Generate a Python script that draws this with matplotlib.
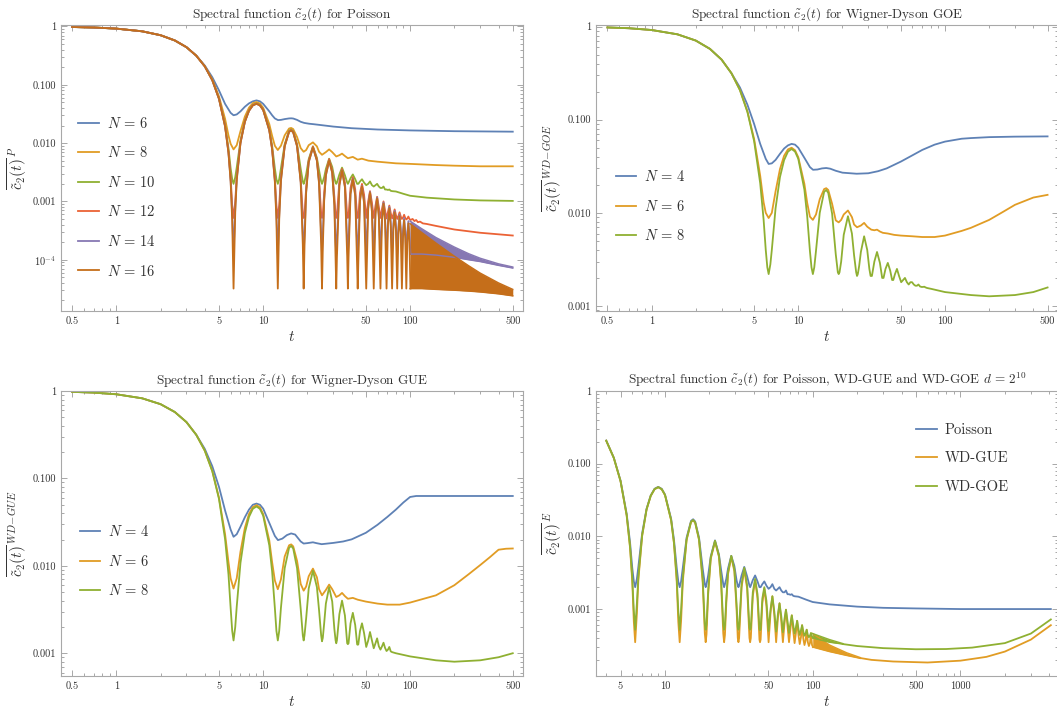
import numpy as np
import matplotlib
matplotlib.use("Agg")
import matplotlib.pyplot as plt
from matplotlib.ticker import FixedLocator, FixedFormatter, NullFormatter, LogLocator

plt.rcParams['font.family'] = ['cmr10', 'DejaVu Serif']
plt.rcParams['mathtext.fontset'] = 'cm'
plt.rcParams['axes.unicode_minus'] = False
plt.rcParams['axes.formatter.use_mathtext'] = True
plt.rcParams['path.simplify'] = False

# ---------------- colours (Mathematica default palette) ----------------
C_BLUE, C_ORANGE, C_GREEN = '#5E81B5', '#E19C24', '#8FB032'
C_RED, C_PURPLE, C_BROWN = '#EB6235', '#8778B3', '#C56E1A'

# ---------------- shared read-off data ----------------
T_E = [0.5, 0.7, 1, 1.5, 2, 2.5, 3, 3.5]
C_E = [0.979, 0.960, 0.919, 0.826, 0.708, 0.576, 0.442, 0.316]

T_OSC = [
    4, 4.5, 5, 5.5, 5.8, 6.0, 6.15, 6.28, 6.45, 6.6,
    7, 7.5, 8, 8.5, 9, 9.5, 10, 11, 11.5, 12, 12.3,
    12.57, 12.85, 13.2, 14, 15, 15.5, 16, 17, 18, 18.6,
    18.85, 19.1, 19.6, 20.4, 21.8, 23.2, 24.0, 24.8,
    25.13, 25.45, 26.0, 26.7, 28.1, 29.5, 30.5, 31.1,
    31.42, 31.75, 33.0, 34.4, 36.0, 37.3,
    37.70, 38.1, 39.3, 40.75, 42.3, 43.6,
    43.98, 44.4, 45.6, 47.04, 48.6,
    50.27, 51.84, 53.33, 54.98, 56.55, 58.12, 59.62, 61.26,
    62.83, 64.40, 65.91, 67.54, 69.12, 70.69, 72.19, 73.83,
    75.40, 76.97, 78.48, 80.11, 81.68, 83.25, 84.77, 86.39,
    87.96, 89.54, 91.05, 92.68, 94.25, 95.82, 97.34, 98.96, 100.53]

# ---------------- Panel 1: Poisson ----------------
P6_T = [4, 4.5, 5, 5.5, 6.0, 6.28, 6.6, 7, 7.5, 8, 8.5, 9, 9.5, 10, 11, 11.5, 12, 12.6, 13.2, 14,
        15, 15.5, 16, 17, 18, 19, 20.5, 22, 25, 30, 40, 60, 100, 200, 500]
P6_Y = [0.214, 0.135, 0.080, 0.047, 0.033, 0.030, 0.031, 0.035, 0.042, 0.048,
        0.052, 0.054, 0.052, 0.047, 0.035, 0.030, 0.0265, 0.0248, 0.0250, 0.0258,
        0.0265, 0.0266, 0.0264, 0.0250, 0.0232, 0.0222, 0.0215, 0.0211, 0.0203, 0.0192,
        0.0180, 0.0171, 0.0165, 0.0160, 0.0157]

P8_T = [4, 4.5, 5, 5.5, 5.8, 6.0, 6.28, 6.6, 7, 7.5, 8, 8.5, 9, 9.5, 10, 11, 11.5, 12, 12.57, 13.2,
        14, 15, 15.5, 16, 17, 18, 18.85, 19.6, 20.4, 21.8, 23.2, 24.0, 25.13, 26.7, 28.1, 29.5,
        31.42, 33.0, 34.4, 36.0, 37.7, 40.75, 43.98, 47.0, 52, 60, 80, 100, 150, 200, 300, 500]
P8_Y = [0.209, 0.124, 0.063, 0.026, 0.0135, 0.0097, 0.0078, 0.0092, 0.0160, 0.0285,
        0.0405, 0.0485, 0.0505, 0.0478, 0.0402, 0.0212, 0.0133, 0.0090, 0.0076, 0.0090,
        0.0136, 0.0178, 0.0182, 0.0174, 0.0127, 0.0082, 0.0071, 0.0076, 0.0092, 0.0103,
        0.0088, 0.0071, 0.0063, 0.0070, 0.0078, 0.0070, 0.0059, 0.0062, 0.0066, 0.0060,
        0.0055, 0.0058, 0.0052, 0.0054, 0.0050, 0.0048, 0.0045, 0.0044, 0.0042, 0.0041,
        0.0040, 0.0040]

P10_OSC = [
    0.208, 0.121, 0.0585, 0.0205, 0.0082, 0.0037, 0.0024, 0.0020, 0.0026, 0.0038,
    0.0110, 0.0240, 0.0365, 0.0452, 0.0480, 0.0451, 0.0376, 0.0175, 0.0090, 0.0037, 0.0024,
    0.0020, 0.0024, 0.0037, 0.0096, 0.0163, 0.0172, 0.0160, 0.0096, 0.0036, 0.0022,
    0.0020, 0.0022, 0.0029, 0.0053, 0.0088, 0.0056, 0.0034, 0.0022,
    0.0020, 0.0022, 0.0026, 0.0036, 0.0054, 0.0039, 0.0025, 0.0021,
    0.0020, 0.0021, 0.0029, 0.0038, 0.0028, 0.0021,
    0.0020, 0.0021, 0.0025, 0.0029, 0.0024, 0.0020,
    0.0020, 0.0020, 0.0022, 0.0024, 0.0021,
    0.0019, 0.0020, 0.0022, 0.0019, 0.0018, 0.0019, 0.0020, 0.0018,
    0.0017, 0.0017, 0.0018, 0.0016, 0.0016, 0.00157, 0.0016, 0.00152,
    0.00150]
P10_TAIL_T = [80, 90, 100, 130, 200, 300, 500]
P10_TAIL_Y = [0.00148, 0.00135, 0.00125, 0.00116, 0.00108, 0.00104, 0.00102]

P12_OSC = [
    0.207, 0.120, 0.0575, 0.0196, 0.0072, 0.0026, 0.00085, 0.00052, 0.0010, 0.0026,
    0.0103, 0.0235, 0.0361, 0.0447, 0.0475, 0.0446, 0.0371, 0.0168, 0.0081, 0.0025, 0.00085,
    0.00052, 0.00087, 0.0026, 0.0091, 0.0159, 0.0168, 0.0156, 0.0091, 0.0024, 0.00062,
    0.00052, 0.00060, 0.0017, 0.0050, 0.0087, 0.0053, 0.0023, 0.00062,
    0.00052, 0.00059, 0.0014, 0.0031, 0.0053, 0.0034, 0.0012, 0.00057,
    0.00052, 0.00057, 0.0022, 0.0036, 0.0021, 0.00057,
    0.00052, 0.00056, 0.0017, 0.0026, 0.0016, 0.00055,
    0.00052, 0.00055, 0.0014, 0.0020, 0.0013,
    0.00052, 0.0010, 0.0015, 0.00095, 0.00052, 0.00085, 0.0012, 0.00080,
    0.00052, 0.00075, 0.00100, 0.00070, 0.00051, 0.00066, 0.00085, 0.00063,
    0.00051, 0.00060, 0.00073, 0.00058, 0.00050, 0.00056, 0.00065, 0.00055,
    0.00050, 0.00053, 0.00059, 0.00052, 0.00049, 0.00051, 0.00055, 0.00050, 0.00048]
P12_TAIL_T = [104, 107, 110, 113, 117, 122, 130, 150, 200, 300, 500]
P12_TAIL_Y = [0.00050, 0.00046, 0.00048, 0.00044, 0.00045, 0.00042, 0.00041, 0.00038,
              0.00033, 0.00029, 0.00026]

P14_OSC = [
    0.207, 0.120, 0.0573, 0.0193, 0.0068, 0.0023, 0.00057, 0.000125, 0.00077, 0.0024,
    0.0100, 0.0232, 0.0358, 0.0444, 0.0472, 0.0443, 0.0368, 0.0165, 0.0078, 0.0023, 0.00057,
    0.000125, 0.00059, 0.0023, 0.0088, 0.0156, 0.0165, 0.0153, 0.0088, 0.0022, 0.00028,
    0.000125, 0.00027, 0.0015, 0.0047, 0.0084, 0.0050, 0.0021, 0.00028,
    0.000125, 0.00026, 0.00112, 0.0028, 0.0050, 0.0031, 0.00092, 0.00020,
    0.000125, 0.00021, 0.00194, 0.0034, 0.00182, 0.00021,
    0.000125, 0.00021, 0.00141, 0.00245, 0.00132, 0.00018,
    0.000125, 0.00019, 0.00109, 0.00185, 0.00101,
    0.000125, 0.00082, 0.00145, 0.00074, 0.000125, 0.00067, 0.00117, 0.00061,
    0.000125, 0.00056, 0.00096, 0.00052, 0.000125, 0.00048, 0.00081, 0.00045,
    0.000125, 0.00042, 0.00069, 0.00039, 0.000125, 0.00037, 0.00060, 0.00035,
    0.000125, 0.00033, 0.00052, 0.00031, 0.000125, 0.00030, 0.00046, 0.00028, 0.000125]

P16_OSC = [
    0.207, 0.120, 0.0573, 0.0193, 0.0068, 0.00221, 0.00047, 3.2e-5, 0.00067, 0.00228,
    0.0100, 0.0232, 0.0358, 0.0444, 0.0472, 0.0443, 0.0368, 0.0165, 0.0078, 0.00217, 0.00047,
    3.2e-5, 0.00049, 0.00223, 0.0088, 0.0156, 0.0165, 0.0153, 0.0088, 0.0021, 0.00018,
    3.2e-5, 0.00017, 0.0014, 0.0047, 0.0084, 0.0050, 0.0020, 0.00018,
    3.2e-5, 0.00016, 0.00104, 0.0028, 0.0050, 0.0031, 0.00084, 0.00010,
    3.2e-5, 0.00011, 0.00186, 0.00337, 0.00174, 0.000114,
    3.2e-5, 0.000109, 0.00133, 0.00241, 0.00124, 7.6e-5,
    3.2e-5, 8.7e-5, 0.00101, 0.00181, 0.00093,
    3.2e-5, 0.00074, 0.00141, 0.00066, 3.2e-5, 0.00059, 0.00113, 0.00053,
    3.2e-5, 0.00048, 0.00092, 0.00044, 3.2e-5, 0.00040, 0.00077, 0.00037,
    3.2e-5, 0.00034, 0.00065, 0.00031, 3.2e-5, 0.00029, 0.00056, 0.00027,
    3.2e-5, 0.00025, 0.00048, 0.00023, 3.2e-5, 0.00022, 0.00042, 0.00020, 3.2e-5]

BAND_T = [100, 120, 150, 200, 250, 300, 400, 500]
P14_BAND_HI = [4.6e-4, 3.4e-4, 2.4e-4, 1.65e-4, 1.27e-4, 1.06e-4, 8.5e-5, 7.5e-5]
P14_BAND_LO = [1.25e-4, 1.25e-4, 1.2e-4, 1.1e-4, 1.0e-4, 9.3e-5, 8.0e-5, 7.2e-5]
P16_BAND_HI = [4.15e-4, 2.93e-4, 1.93e-4, 1.15e-4, 7.9e-5, 5.9e-5, 4.0e-5, 3.1e-5]
P16_BAND_LO = [3.2e-5, 3.2e-5, 3.1e-5, 3.0e-5, 2.9e-5, 2.8e-5, 2.6e-5, 2.4e-5]

# ---------------- Panel 2: Wigner-Dyson GOE ----------------
G4_T = [4, 4.5, 5, 5.5, 6.0, 6.28, 6.6, 7, 7.5, 8, 8.5, 9, 9.5, 10, 11, 12, 12.6, 13.5, 14.5,
        15.5, 16.5, 18, 20, 25, 30, 35, 40, 50, 60, 70, 85, 100, 130, 150, 200, 300, 500]
G4_Y = [0.222, 0.145, 0.090, 0.055, 0.038, 0.0335, 0.034, 0.037, 0.043, 0.049,
        0.053, 0.055, 0.054, 0.050, 0.039, 0.031, 0.029, 0.0292, 0.0300,
        0.0303, 0.0298, 0.0283, 0.0270, 0.0263, 0.0266, 0.0280, 0.0300, 0.0355, 0.0415,
        0.0474, 0.0540, 0.0582, 0.0625, 0.0635, 0.0650, 0.0658, 0.0662]

G6_T = [4, 4.5, 5, 5.5, 5.8, 6.0, 6.28, 6.6, 7, 7.5, 8, 8.5, 9, 9.5, 10, 11, 11.5, 12, 12.57, 13.2,
        14, 15, 15.5, 16, 17, 18, 18.85, 19.6, 20.4, 21.8, 23.2, 24.0, 25.13, 26.7, 28.1, 29.5,
        31.42, 33.0, 34.4, 36.0, 37.7, 40.75, 45, 50, 60, 70, 85, 100, 130, 150,
        200, 250, 300, 400, 500]
G6_Y = [0.209, 0.123, 0.062, 0.025, 0.0130, 0.0100, 0.0088, 0.0100, 0.0170, 0.0295,
        0.0410, 0.0480, 0.0500, 0.0470, 0.0395, 0.0205, 0.0128, 0.0091, 0.0084, 0.0096,
        0.0140, 0.0180, 0.0184, 0.0176, 0.0125, 0.0083, 0.0079, 0.0084, 0.0096, 0.0106,
        0.0090, 0.0075, 0.0070, 0.0073, 0.0078, 0.0071, 0.0066, 0.0065, 0.0066, 0.0063,
        0.0061, 0.0060, 0.0058, 0.0057, 0.0056, 0.0055, 0.0055, 0.0057, 0.0064, 0.0069,
        0.0084, 0.0103, 0.0122, 0.0146, 0.0156]

G8_OSC = [
    0.208, 0.121, 0.0588, 0.0208, 0.0085, 0.0040, 0.0026, 0.0022, 0.0028, 0.0040,
    0.0112, 0.0242, 0.0368, 0.0454, 0.0485, 0.0455, 0.0380, 0.0178, 0.0092, 0.0039, 0.0026,
    0.0022, 0.0026, 0.0039, 0.0100, 0.0168, 0.0176, 0.0164, 0.0098, 0.0036, 0.0023,
    0.0022, 0.0023, 0.0030, 0.0058, 0.0092, 0.0060, 0.0035, 0.0023,
    0.0021, 0.0022, 0.0027, 0.0038, 0.0056, 0.0040, 0.0025, 0.0021,
    0.0021, 0.0021, 0.0030, 0.0038, 0.0029, 0.0020,
    0.0020, 0.0020, 0.0025, 0.0029, 0.0024, 0.0019,
    0.0019, 0.0019, 0.0022, 0.0025, 0.0021,
    0.0018, 0.0019, 0.0020, 0.0018, 0.0017, 0.0018, 0.0018, 0.0017,
    0.00165, 0.00165, 0.0017, 0.00162, 0.0016, 0.0016, 0.00161, 0.00158,
    0.00156]
G8_TAIL_T = [80, 100, 150, 200, 300, 400, 500]
G8_TAIL_Y = [0.00153, 0.00141, 0.00131, 0.00127, 0.00131, 0.00141, 0.00158]

# ---------------- Panel 3: Wigner-Dyson GUE ----------------
U4_T = [4, 4.5, 5, 5.5, 6.0, 6.28, 6.6, 7, 7.5, 8, 8.5, 9, 9.5, 10, 11, 12, 12.6, 13.5, 14.5, 15.5,
        16.5, 18, 18.85, 20, 21.8, 23, 25, 30, 35, 40, 50, 60, 70, 80, 90, 100, 110, 150, 500]
U4_Y = [0.218, 0.138, 0.080, 0.043, 0.026, 0.0215, 0.023, 0.028, 0.036, 0.044,
        0.050, 0.0516, 0.050, 0.045, 0.031, 0.022, 0.0197, 0.0205, 0.0225, 0.0235,
        0.0228, 0.019, 0.018, 0.0182, 0.0186, 0.0182, 0.0177, 0.0183, 0.0190, 0.0201,
        0.0239, 0.0295, 0.0363, 0.0440, 0.0531, 0.0614, 0.0630, 0.0630, 0.0630]

U6_T = [4, 4.5, 5, 5.5, 5.8, 6.0, 6.28, 6.6, 7, 7.5, 8, 8.5, 9, 9.5, 10, 11, 11.5, 12, 12.57, 13.2,
        14, 15, 15.5, 16, 17, 18, 18.85, 19.6, 20.4, 21.8, 23.2, 24.0, 25.13, 26.7, 28.1, 29.5,
        31.42, 33.0, 34.4, 36.0, 37.7, 40.75, 44, 50, 60, 70, 85, 100, 130, 150,
        200, 250, 300, 350, 400, 450, 500]
U6_Y = [0.208, 0.122, 0.060, 0.023, 0.0110, 0.0072, 0.0055, 0.0072, 0.0145, 0.0272,
        0.0392, 0.0470, 0.0495, 0.0466, 0.0390, 0.0195, 0.0110, 0.0068, 0.0054, 0.0070,
        0.0128, 0.0172, 0.0176, 0.0167, 0.0114, 0.0062, 0.0052, 0.0058, 0.0076, 0.0093,
        0.0074, 0.0054, 0.0046, 0.0053, 0.0061, 0.0054, 0.0044, 0.0046, 0.0049, 0.0045,
        0.0042, 0.0043, 0.0041, 0.0039, 0.0037, 0.0036, 0.0036, 0.0038, 0.0043, 0.0046,
        0.0060, 0.0080, 0.0102, 0.0126, 0.0153, 0.0157, 0.0158]

U8_OSC = [
    0.208, 0.121, 0.0582, 0.0202, 0.0080, 0.0033, 0.0018, 0.0014, 0.0020, 0.0034,
    0.0108, 0.0238, 0.0363, 0.0450, 0.0478, 0.0449, 0.0374, 0.0172, 0.0086, 0.0033, 0.0018,
    0.0014, 0.0018, 0.0033, 0.0094, 0.0161, 0.0169, 0.0158, 0.0094, 0.0032, 0.0016,
    0.0014, 0.0016, 0.0025, 0.0055, 0.0088, 0.0057, 0.0031, 0.0016,
    0.00137, 0.0015, 0.0022, 0.0037, 0.0057, 0.0039, 0.0019, 0.0014,
    0.0013, 0.0014, 0.0028, 0.0040, 0.0027, 0.0013,
    0.00127, 0.0013, 0.0022, 0.0029, 0.0021, 0.00126,
    0.00125, 0.00126, 0.0018, 0.0022, 0.0017,
    0.00118, 0.0014, 0.00175, 0.0014, 0.00114, 0.0013, 0.00148, 0.0012,
    0.0011, 0.0012, 0.00132, 0.00115, 0.00106, 0.0011, 0.00118, 0.00105,
    0.00103]
U8_TAIL_T = [80, 100, 150, 200, 300, 400, 500]
U8_TAIL_Y = [0.00100, 0.00092, 0.00083, 0.00080, 0.00083, 0.00090, 0.00100]

# ---------------- Panel 4: d = 2^10 comparison ----------------
E_POI_TAIL_T = [80, 90, 100, 130, 200, 300, 500, 1000, 2000, 4096]
E_POI_TAIL_Y = [0.00148, 0.00135, 0.00125, 0.00116, 0.00108, 0.00104, 0.00102,
                0.00100, 0.00100, 0.00100]

E_GUE_OSC = [
    0.207, 0.120, 0.0573, 0.0193, 0.0069, 0.0024, 0.00067, 0.00035, 0.00087, 0.0025,
    0.0101, 0.0233, 0.0359, 0.0445, 0.0473, 0.0444, 0.0369, 0.0166, 0.0080, 0.0024, 0.00067,
    0.00035, 0.00069, 0.0024, 0.0089, 0.0157, 0.0166, 0.0154, 0.0089, 0.0023, 0.00046,
    0.00035, 0.00045, 0.0016, 0.0049, 0.0085, 0.0052, 0.0022, 0.00046,
    0.00035, 0.00044, 0.0012, 0.0030, 0.0052, 0.0033, 0.0010, 0.00040,
    0.00035, 0.00040, 0.0020, 0.0035, 0.0019, 0.00040,
    0.00035, 0.00040, 0.0015, 0.0025, 0.0014, 0.00038,
    0.00035, 0.00038, 0.0012, 0.0019, 0.0011,
    0.00035, 0.00090, 0.0015, 0.00082, 0.00035, 0.00075, 0.0012, 0.00068,
    0.00035, 0.00063, 0.00098, 0.00058, 0.00035, 0.00054, 0.00082, 0.00050,
    0.00034, 0.00047, 0.00069, 0.00044, 0.00033, 0.00041, 0.00060, 0.00039,
    0.00032, 0.00037, 0.00052, 0.00035, 0.00031, 0.00034, 0.00046, 0.00032, 0.00030]
E_GUE_BAND_T = [100, 130, 170, 210]
E_GUE_BAND_LO = [3.0e-4, 2.6e-4, 2.3e-4, 2.1e-4]
E_GUE_BAND_HI = [4.6e-4, 3.2e-4, 2.5e-4, 2.15e-4]
E_GUE_TAIL_T = [210, 250, 350, 600, 1000, 1500, 2000, 3000, 4096]
E_GUE_TAIL_Y = [2.12e-4, 2.0e-4, 1.9e-4, 1.84e-4, 1.95e-4, 2.2e-4, 2.6e-4, 3.8e-4, 6.0e-4]

E_GOE_OSC = [
    0.207, 0.120, 0.0575, 0.0196, 0.0072, 0.0027, 0.00095, 0.00052, 0.0012, 0.0028,
    0.0103, 0.0235, 0.0361, 0.0447, 0.0475, 0.0446, 0.0371, 0.0168, 0.0082, 0.0027, 0.00095,
    0.00052, 0.00097, 0.0027, 0.0091, 0.0159, 0.0168, 0.0156, 0.0091, 0.0026, 0.00062,
    0.00052, 0.00061, 0.0018, 0.0051, 0.0087, 0.0054, 0.0024, 0.00062,
    0.00052, 0.00060, 0.0014, 0.0032, 0.0054, 0.0035, 0.0012, 0.00056,
    0.00052, 0.00056, 0.0022, 0.0037, 0.0021, 0.00055,
    0.00052, 0.00055, 0.0017, 0.0026, 0.0016, 0.00053,
    0.00051, 0.00053, 0.0014, 0.0020, 0.0013,
    0.00050, 0.0010, 0.0015, 0.00092, 0.00049, 0.00085, 0.0012, 0.00080,
    0.00048, 0.00073, 0.00098, 0.00068, 0.00047, 0.00064, 0.00082, 0.00060,
    0.00046, 0.00056, 0.00069, 0.00053, 0.00044, 0.00051, 0.00060, 0.00049,
    0.00043, 0.00046, 0.00052, 0.00044, 0.00041, 0.00043, 0.00047, 0.00042, 0.00040]
E_GOE_BAND_T = [100, 130, 160]
E_GOE_BAND_LO = [4.0e-4, 3.5e-4, 3.3e-4]
E_GOE_BAND_HI = [4.6e-4, 3.8e-4, 3.35e-4]
E_GOE_TAIL_T = [160, 200, 300, 500, 800, 1200, 2000, 3000, 4096]
E_GOE_TAIL_Y = [3.3e-4, 3.1e-4, 2.9e-4, 2.8e-4, 2.82e-4, 2.95e-4, 3.4e-4, 4.6e-4, 7.2e-4]

# tick labels
X_TICKS = [0.5, 1, 5, 10, 50, 100, 500]
X_LABELS = ['0.5', '1', '5', '10', '50', '100', '500']
X4_TICKS = [5, 10, 50, 100, 500, 1000]
X4_LABELS = ['5', '10', '50', '100', '500', '1000']
Y_TICKS = [1, 0.1, 0.01, 0.001, 1e-4]
Y_LABELS = ['1', '0.100', '0.010', '0.001', r'$10^{-4}$']

LW = 1.3
FRAME = '#A8A8A8'
TXT = '#333333'


def osc(vals):
    n = min(len(vals), len(T_OSC))
    return list(T_OSC[:n]), list(vals[:n])


def curve(ax, t, y, color, label=None):
    ax.plot(t, y, color=color, lw=LW, label=label, solid_joinstyle='round')


def band(ax, t, lo, hi, color):
    ax.fill_between(t, lo, hi, color=color, lw=0)
    ax.plot(t, hi, color=color, lw=LW * 0.8)
    ax.plot(t, lo, color=color, lw=LW * 0.8)


def setup(ax, xlim, ylim, xt, xl, yt, yl):
    ax.set_xscale('log')
    ax.set_yscale('log')
    ax.set_xlim(*xlim)
    ax.set_ylim(*ylim)
    ax.xaxis.set_major_locator(FixedLocator(xt))
    ax.xaxis.set_major_formatter(FixedFormatter(xl))
    ax.yaxis.set_major_locator(FixedLocator(yt))
    ax.yaxis.set_major_formatter(FixedFormatter(yl))
    ax.xaxis.set_minor_locator(LogLocator(base=10, subs=np.arange(1, 10), numticks=60))
    ax.yaxis.set_minor_locator(LogLocator(base=10, subs=np.arange(1, 10), numticks=60))
    ax.xaxis.set_minor_formatter(NullFormatter())
    ax.yaxis.set_minor_formatter(NullFormatter())
    ax.tick_params(which='both', direction='in', top=True, right=True,
                   color=FRAME, width=0.7, labelcolor=TXT, labelsize=7.5)
    ax.tick_params(which='major', length=4.5)
    ax.tick_params(which='minor', length=2.5)
    ax.tick_params(axis='x', which='major', pad=4)
    for s in ax.spines.values():
        s.set_color(FRAME)
        s.set_linewidth(0.8)
    ax.set_xlabel(r'$t$', fontsize=11, color=TXT, labelpad=3)


def legend(ax, x0, y0, **kw):
    leg = ax.legend(loc='upper left', bbox_to_anchor=(x0, y0), frameon=False,
                    borderaxespad=0, borderpad=0, handlelength=1.4, handletextpad=0.55,
                    labelspacing=1.0, fontsize=10.5, **kw)
    for t in leg.get_texts():
        t.set_color(TXT)
    return leg


W, H = 1057, 719
fig = plt.figure(figsize=(W / 100, H / 100), dpi=100)
AW = 462 / W
ax1 = fig.add_axes([61 / W, (H - 311) / H, AW, 286 / H])
ax2 = fig.add_axes([596 / W, (H - 311) / H, AW, 286 / H])
ax3 = fig.add_axes([61 / W, (H - 676) / H, AW, 285.5 / H])
ax4 = fig.add_axes([596 / W, (H - 676) / H, AW, 285.5 / H])

# ---- Panel 1 ----
curve(ax1, T_E + P6_T, C_E + P6_Y, C_BLUE, r'$N\,=\,6$')
curve(ax1, T_E + P8_T, C_E + P8_Y, C_ORANGE, r'$N\,=\,8$')
t, y = osc(P10_OSC)
curve(ax1, T_E + t + P10_TAIL_T, C_E + y + P10_TAIL_Y, C_GREEN, r'$N\,=\,10$')
t, y = osc(P12_OSC)
curve(ax1, T_E + t + P12_TAIL_T, C_E + y + P12_TAIL_Y, C_RED, r'$N\,=\,12$')
t, y = osc(P14_OSC)
curve(ax1, T_E + t, C_E + y, C_PURPLE, r'$N\,=\,14$')
band(ax1, BAND_T, P14_BAND_LO, P14_BAND_HI, C_PURPLE)
t, y = osc(P16_OSC)
curve(ax1, T_E + t, C_E + y, C_BROWN, r'$N\,=\,16$')
band(ax1, BAND_T, P16_BAND_LO, P16_BAND_HI, C_BROWN)
setup(ax1, (0.42, 587), (1.32e-5, 1.06), X_TICKS, X_LABELS, Y_TICKS, Y_LABELS)
ax1.set_title(r'Spectral function $\tilde{c}_2(t)$ for Poisson', fontsize=9.5, color=TXT, pad=5)
ax1.set_ylabel(r'$\overline{\tilde{c}_2(t)}^{\,P}$', fontsize=11, color=TXT, labelpad=2)
legend(ax1, 0.037, 0.683)

# ---- Panel 2 ----
curve(ax2, T_E + G4_T, C_E + G4_Y, C_BLUE, r'$N\,=\,4$')
curve(ax2, T_E + G6_T, C_E + G6_Y, C_ORANGE, r'$N\,=\,6$')
t, y = osc(G8_OSC)
curve(ax2, T_E + t + G8_TAIL_T, C_E + y + G8_TAIL_Y, C_GREEN, r'$N\,=\,8$')
setup(ax2, (0.418, 589), (8.83e-4, 1.04), X_TICKS, X_LABELS, Y_TICKS[:4], Y_LABELS[:4])
ax2.set_title(r'Spectral function $\tilde{c}_2(t)$ for Wigner-Dyson GOE', fontsize=9.5,
              color=TXT, pad=5)
ax2.set_ylabel(r'$\overline{\tilde{c}_2(t)}^{\,WD\!-\!GOE}$', fontsize=11, color=TXT, labelpad=2)
legend(ax2, 0.043, 0.496)

# ---- Panel 3 ----
curve(ax3, T_E + U4_T, C_E + U4_Y, C_BLUE, r'$N\,=\,4$')
curve(ax3, T_E + U6_T, C_E + U6_Y, C_ORANGE, r'$N\,=\,6$')
t, y = osc(U8_OSC)
curve(ax3, T_E + t + U8_TAIL_T, C_E + y + U8_TAIL_Y, C_GREEN, r'$N\,=\,8$')
setup(ax3, (0.42, 587), (5.49e-4, 1.015), X_TICKS, X_LABELS, Y_TICKS[:4], Y_LABELS[:4])
ax3.set_title(r'Spectral function $\tilde{c}_2(t)$ for Wigner-Dyson GUE', fontsize=9.5,
              color=TXT, pad=5)
ax3.set_ylabel(r'$\overline{\tilde{c}_2(t)}^{\,WD\!-\!GUE}$', fontsize=11, color=TXT, labelpad=2)
legend(ax3, 0.041, 0.532)

# ---- Panel 4 ----
t, y = osc(P10_OSC)
curve(ax4, t + E_POI_TAIL_T, y + E_POI_TAIL_Y, C_BLUE, 'Poisson')
t, y = osc(E_GUE_OSC)
curve(ax4, t, y, C_ORANGE, 'WD-GUE')
band(ax4, E_GUE_BAND_T, E_GUE_BAND_LO, E_GUE_BAND_HI, C_ORANGE)
curve(ax4, E_GUE_TAIL_T, E_GUE_TAIL_Y, C_ORANGE)
t, y = osc(E_GOE_OSC)
curve(ax4, t, y, C_GREEN, 'WD-GOE')
band(ax4, E_GOE_BAND_T, E_GOE_BAND_LO, E_GOE_BAND_HI, C_GREEN)
curve(ax4, E_GOE_TAIL_T, E_GOE_TAIL_Y, C_GREEN)
setup(ax4, (3.41, 4580), (1.2e-4, 1.015), X4_TICKS, X4_LABELS, Y_TICKS[:4], Y_LABELS[:4])
ax4.set_title(r'Spectral function $\tilde{c}_2(t)$ for Poisson, WD-GUE and WD-GOE $d\,=\,2^{10}$',
              fontsize=9.5, color=TXT, pad=5)
ax4.set_ylabel(r'$\overline{\tilde{c}_2(t)}^{\,E}$', fontsize=11, color=TXT, labelpad=2)
legend(ax4, 0.693, 0.885)

fig.savefig('out.png', dpi=100)
